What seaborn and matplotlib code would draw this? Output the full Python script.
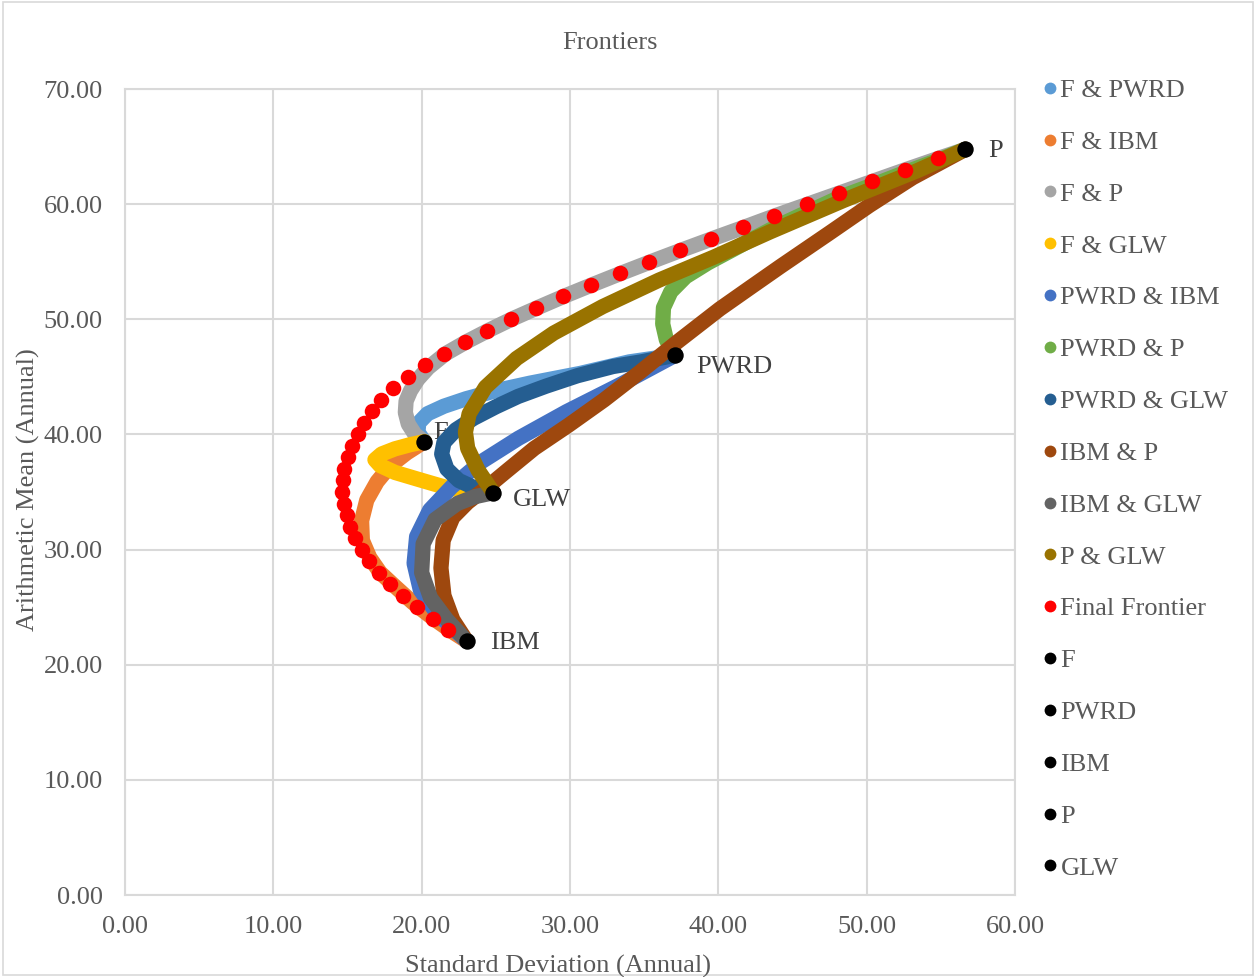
import pandas as pd
import matplotlib.pyplot as plt
import seaborn as sns
from matplotlib.lines import Line2D
from matplotlib.patches import Rectangle

# Asset points (standard deviation, mean)
asset_names = ["F", "PWRD", "IBM", "P", "GLW"]
asset_sd = [20.18, 37.10, 23.03, 56.65, 24.83]
asset_mean = [39.37, 46.88, 22.06, 64.76, 34.94]

# Two-asset frontiers
f_pwrd_sd = [20.18, 19.75, 19.8, 20.4, 21.5, 23.0, 25.0, 27.3, 30.7, 34.0, 37.1]
f_pwrd_mean = [39.37, 40.2, 41.0, 41.8, 42.45, 43.1, 43.8, 44.45, 45.3, 46.3, 46.88]

f_ibm_sd = [20.18, 19.0, 17.9, 17.0, 16.3, 15.95, 16.0, 16.5, 17.2, 18.2, 19.4, 20.7, 21.9, 23.03]
f_ibm_mean = [39.37, 38.4, 37.3, 35.9, 34.3, 32.5, 30.8, 29.3, 28.0, 26.8, 25.4, 24.1, 23.0, 22.06]

f_p_sd = [20.18, 19.55, 19.1, 18.9, 18.95, 19.25, 19.75, 20.45, 21.6, 22.95, 24.45, 26.05, 27.8,
          29.6, 31.5, 33.45, 35.45, 37.5, 39.6, 41.75, 43.85, 46.05, 48.25, 50.45, 52.65, 54.9, 56.65]
f_p_mean = [39.37, 40.0, 40.9, 41.9, 42.9, 43.8, 44.8, 45.8, 47.0, 48.0, 49.0, 50.0, 51.0,
            52.0, 53.0, 54.0, 55.0, 56.0, 57.0, 58.0, 59.0, 60.0, 61.0, 62.0, 63.0, 64.0, 64.76]

f_glw_sd = [20.18, 19.2, 18.2, 17.3, 16.85, 17.2, 18.2, 19.9, 21.9, 23.3, 24.83]
f_glw_mean = [39.37, 39.1, 38.75, 38.3, 37.8, 37.3, 36.7, 36.05, 35.3, 35.1, 34.94]

pwrd_ibm_sd = [37.1, 33.5, 29.76, 26.52, 24.03, 22.03, 20.54, 19.66, 19.49, 19.91, 21.03, 23.03]
pwrd_ibm_mean = [46.88, 44.4, 41.97, 39.66, 37.63, 35.46, 33.43, 31.12, 28.8, 26.49, 24.46, 22.06]

pwrd_p_sd = [37.1, 36.5, 36.25, 36.3, 36.8, 37.8, 39.3, 40.9, 42.2, 44.0, 46.0, 48.2, 50.5, 52.7, 54.8, 56.65]
pwrd_p_mean = [46.88, 48.2, 49.6, 51.0, 52.4, 53.7, 54.9, 56.0, 56.9, 58.1, 59.3, 60.6, 61.7, 62.8, 63.8, 64.76]

pwrd_glw_sd = [37.1, 34.8, 32.9, 30.5, 28.4, 26.5, 25.0, 23.5, 22.3, 21.5, 21.35, 21.7, 22.5, 23.5, 24.83]
pwrd_glw_mean = [46.88, 46.3, 45.9, 45.1, 44.2, 43.3, 42.4, 41.4, 40.4, 39.3, 38.3, 37.0, 36.0, 35.4, 34.94]

ibm_p_sd = [23.03, 22.1, 21.5, 21.3, 21.45, 22.1, 23.1, 24.3, 25.8, 27.6, 29.9, 32.3, 34.7,
            37.2, 40.1, 42.2, 44.2, 47.5, 50.2, 53.1, 56.65]
ibm_p_mean = [22.06, 23.9, 26.0, 28.4, 30.8, 32.8, 34.1, 35.3, 36.9, 38.8, 40.8, 43.0, 45.4,
              48.0, 50.9, 52.8, 54.6, 57.5, 59.9, 62.3, 64.76]

ibm_glw_sd = [23.03, 21.7, 20.6, 20.0, 20.1, 20.9, 22.4, 23.6, 24.83]
ibm_glw_mean = [22.06, 23.9, 25.8, 28.0, 30.5, 32.6, 34.0, 34.6, 34.94]

p_glw_sd = [24.83, 23.8, 23.1, 22.95, 23.2, 24.3, 26.4, 28.9, 32.2, 36.0, 39.7, 43.5, 48.4, 53.4, 56.65]
p_glw_mean = [34.94, 36.9, 38.8, 40.2, 41.8, 44.1, 46.6, 48.8, 51.1, 53.4, 55.4, 57.6, 60.3, 62.9, 64.76]

# Final frontier (red dots)
ff_mean = [23, 24, 25, 26, 27, 28, 29, 30, 31, 32, 33, 34, 35, 36, 37, 38, 39, 40, 41, 42, 43,
           44, 45, 46, 47, 48, 49, 50, 51, 52, 53, 54, 55, 56, 57, 58, 59, 60, 61, 62, 63, 64]
ff_sd = [21.80, 20.74, 19.67, 18.72, 17.87, 17.10, 16.47, 15.96, 15.51, 15.17, 14.95, 14.76,
         14.65, 14.68, 14.78, 15.01, 15.30, 15.69, 16.13, 16.67, 17.24, 18.09, 19.10, 20.23,
         21.51, 22.92, 24.38, 26.00, 27.71, 29.51, 31.40, 33.37, 35.35, 37.42, 39.49, 41.68,
         43.77, 45.96, 48.14, 50.38, 52.59, 54.83]

pairs = [
    ("F & PWRD", f_pwrd_sd, f_pwrd_mean, "#5B9BD5"),
    ("F & IBM", f_ibm_sd, f_ibm_mean, "#ED7D31"),
    ("F & P", f_p_sd, f_p_mean, "#A5A5A5"),
    ("F & GLW", f_glw_sd, f_glw_mean, "#FFC000"),
    ("PWRD & IBM", pwrd_ibm_sd, pwrd_ibm_mean, "#4472C4"),
    ("PWRD & P", pwrd_p_sd, pwrd_p_mean, "#70AD47"),
    ("PWRD & GLW", pwrd_glw_sd, pwrd_glw_mean, "#255E91"),
    ("IBM & P", ibm_p_sd, ibm_p_mean, "#9E480E"),
    ("IBM & GLW", ibm_glw_sd, ibm_glw_mean, "#636363"),
    ("P & GLW", p_glw_sd, p_glw_mean, "#997300"),
]

sns.set_theme(style="white")
plt.rcParams["font.family"] = ["Liberation Serif", "DejaVu Serif"]
text_col = "#595959"

fig = plt.figure(figsize=(12.56, 9.77), dpi=100)
ax = fig.add_axes([125 / 1256, 82 / 977, 890 / 1256, 806 / 977])

# Frontier curves
for i, (name, sd, mean, col) in enumerate(pairs):
    df = pd.DataFrame({"sd": sd, "mean": mean})
    sns.lineplot(data=df, x="sd", y="mean", sort=False, estimator=None, color=col,
                 linewidth=11, solid_capstyle="round", solid_joinstyle="round",
                 ax=ax, zorder=3 + i * 0.01)

# Final frontier
ff = pd.DataFrame({"sd": ff_sd, "mean": ff_mean})
sns.scatterplot(data=ff, x="sd", y="mean", color="#FF0000", s=125, linewidth=0, ax=ax, zorder=4)

# Individual assets
assets = pd.DataFrame({"sd": asset_sd, "mean": asset_mean, "name": asset_names})
sns.scatterplot(data=assets, x="sd", y="mean", color="black", s=140, linewidth=0, ax=ax, zorder=5)

label_offsets = {"F": (9, 9), "PWRD": (21, -12), "IBM": (23, -2), "P": (23, -2), "GLW": (20, -7)}
for name, sd, mean in zip(asset_names, asset_sd, asset_mean):
    dx, dy = label_offsets[name]
    ax.annotate(name, (sd, mean), xytext=(dx, dy), textcoords="offset pixels",
                ha="left", va="center", fontsize=19, color="#404040",
                zorder=2.5 if name == "F" else 6)

ax.set_xlim(0, 60)
ax.set_ylim(0, 70)
ax.set_xticks([0, 10, 20, 30, 40, 50, 60])
ax.set_yticks([0, 10, 20, 30, 40, 50, 60, 70])
ax.set_xticklabels([f"{v:.2f}" for v in ax.get_xticks()])
ax.set_yticklabels([f"{v:.2f}" for v in ax.get_yticks()])
ax.tick_params(axis="both", labelsize=19, labelcolor=text_col, length=0)
ax.tick_params(axis="x", pad=15)
ax.tick_params(axis="y", pad=16)
ax.grid(True, color="#D9D9D9", linewidth=1.5)
for sp in ax.spines.values():
    sp.set_color("#D9D9D9")
    sp.set_linewidth(1.5)
ax.set_xlabel("")
ax.set_ylabel("")

fig.text(558 / 1256, 1 - 966 / 977, "Standard Deviation (Annual)", ha="center", va="center",
         fontsize=19, color=text_col)
fig.text(28 / 1256, 1 - 490 / 977, "Arithmetic Mean (Annual)", ha="center", va="center",
         rotation=90, fontsize=19, color=text_col)
fig.text(610 / 1256, 1 - 43 / 977, "Frontiers", ha="center", va="center", fontsize=19,
         color=text_col)

# Legend
handles = [Line2D([], [], marker="o", linestyle="none", markersize=8.5, markeredgewidth=0,
                  color=col) for _, _, _, col in pairs]
labels = [p[0] for p in pairs]
handles.append(Line2D([], [], marker="o", linestyle="none", markersize=8.5, markeredgewidth=0,
                      color="#FF0000"))
labels.append("Final Frontier")
for name in asset_names:
    handles.append(Line2D([], [], marker="o", linestyle="none", markersize=8.5,
                          markeredgewidth=0, color="black"))
    labels.append(name)
leg = fig.legend(handles, labels, loc="upper left", bbox_to_anchor=(1034 / 1256, 1 - 68 / 977),
                 frameon=False, fontsize=19, labelcolor=text_col, handlelength=0.45,
                 handletextpad=0.15, labelspacing=1.075, borderaxespad=0)

fig.patches.append(Rectangle((0.002, 0.002), 0.996, 0.996, transform=fig.transFigure,
                             fill=False, edgecolor="#D9D9D9", linewidth=1.2))

plt.savefig("out.png", dpi=100)
